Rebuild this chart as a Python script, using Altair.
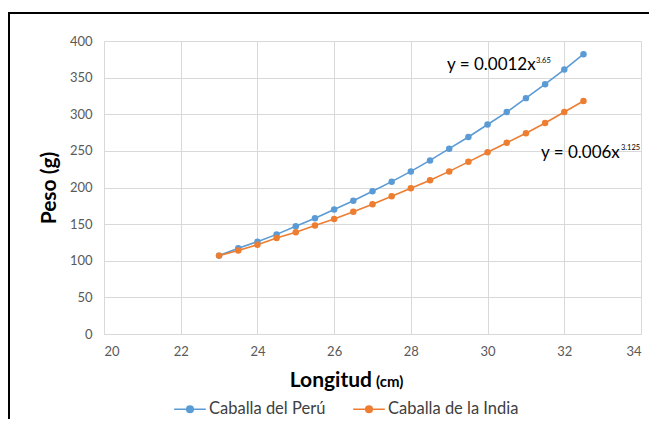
import altair as alt
import pandas as pd

x_vals = [23, 23.5, 24, 24.5, 25, 25.5, 26, 26.5, 27, 27.5, 28, 28.5, 29, 29.5, 30, 30.5, 31, 31.5, 32, 32.5]
peru = [107, 117, 126, 136, 147, 158, 170, 182, 195, 208, 222, 237, 253, 269, 286, 303, 322, 341, 361, 382]
india = [107, 114, 122, 131, 139, 148, 157, 167, 177, 188, 199, 210, 222, 235, 248, 261, 274, 288, 303, 318]
series = ["Caballa del Perú", "Caballa de la India"]
colors = ["#5B9BD5", "#ED7D31"]
eq_text = ["y = 0.0012x", "y = 0.006x"]
eq_sup = ["3.65", "3.125"]

rows = []
for xv, p, i in zip(x_vals, peru, india):
    rows.append({"x": xv, "y": p, "s": series[0]})
    rows.append({"x": xv, "y": i, "s": series[1]})
df = pd.DataFrame(rows)

FONT = "Lato"
W, H = 537, 293

xs = alt.X("x:Q", scale=alt.Scale(domain=[20, 34], nice=False),
           axis=alt.Axis(values=list(range(20, 35, 2)), title=None, grid=True, ticks=False,
                         labelFontSize=13, labelColor="#595959", labelPadding=11, labelOverlap=False,
                         domainColor="#d9d9d9", gridColor="#d9d9d9", labelFont=FONT))
ys = alt.Y("y:Q", scale=alt.Scale(domain=[0, 400], nice=False),
           axis=alt.Axis(values=list(range(0, 401, 50)), title="Peso (g)", grid=True, ticks=False,
                         domain=False, labelFontSize=13, labelColor="#595959", labelPadding=12,
                         labelOverlap=False, gridColor="#d9d9d9", labelFont=FONT, titleFont=FONT,
                         titleFontSize=21, titleFontWeight="bold", titleColor="#000000", titlePadding=10))
col = alt.Color("s:N", scale=alt.Scale(domain=series, range=colors),
                legend=alt.Legend(title=None, orient="none", legendX=69, legendY=351, padding=0,
                                  direction="horizontal", labelFont=FONT, labelFontSize=16.5,
                                  labelColor="#404040", columnPadding=24, symbolSize=1000,
                                  symbolType="M-1,0L1,0M0.21,0A0.21,0.21 0 1 1 -0.21,0A0.21,0.21 0 1 1 0.21,0Z",
                                  symbolStrokeWidth=1.5, labelOffset=2))

base = alt.Chart(df)
lines = base.mark_line(strokeWidth=1.6).encode(x=xs, y=ys, color=col, detail="s:N")
pts = base.mark_circle(size=42, opacity=1).encode(x=xs, y=ys, color=col)

eq_df = pd.DataFrame({"t": eq_text, "px": [343, 437], "py": [29, 117]})
eq = alt.Chart(eq_df).mark_text(align="left", baseline="alphabetic", font=FONT, fontSize=17,
                                color="#000000").encode(
    x=alt.X("px:Q", scale=None, axis=None), y=alt.Y("py:Q", scale=None, axis=None), text="t:N")
sup_df = pd.DataFrame({"t": eq_sup, "px": [432, 517], "py": [22, 109]})
sup = alt.Chart(sup_df).mark_text(align="left", baseline="alphabetic", font=FONT, fontSize=7.5,
                                  color="#000000").encode(
    x=alt.X("px:Q", scale=None, axis=None), y=alt.Y("py:Q", scale=None, axis=None), text="t:N")

t1 = alt.Chart(pd.DataFrame({"t": ["Longitud"]})).mark_text(
    align="right", baseline="alphabetic", font=FONT, fontSize=21, fontWeight="bold", color="#000000").encode(
    x=alt.value(268), y=alt.value(346), text="t:N")
t2 = alt.Chart(pd.DataFrame({"t": ["(cm)"]})).mark_text(
    align="left", baseline="alphabetic", font=FONT, fontSize=15, fontWeight="bold", color="#000000").encode(
    x=alt.value(272), y=alt.value(346), text="t:N")

frame_l = alt.Chart(pd.DataFrame({"a": [0]})).mark_rule(color="#000000", strokeWidth=2).encode(
    x=alt.value(-95), y=alt.value(-28), y2=alt.value(420))
frame_t = alt.Chart(pd.DataFrame({"a": [0]})).mark_rule(color="#000000", strokeWidth=2).encode(
    x=alt.value(-96), x2=alt.value(560), y=alt.value(-28))

chart = alt.layer(lines, pts, eq, sup, t1, t2, frame_l, frame_t).properties(
    width=W, height=H,
    padding={"left": 96, "top": 33, "right": 8, "bottom": 85},
    autosize=alt.AutoSizeParams(type="none"),
    background="#ffffff",
).configure_view(stroke=None)

chart.save("out.html", embed_options={"renderer": "svg", "actions": False})
